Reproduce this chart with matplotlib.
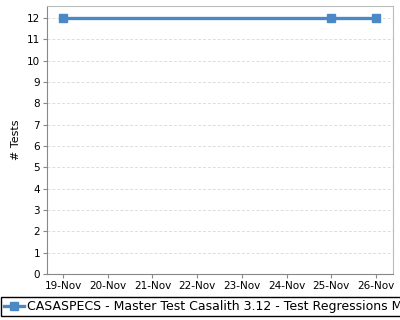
import datetime as dt
import matplotlib
matplotlib.use("Agg")
import matplotlib.pyplot as plt
import matplotlib.dates as mdates

# test run dates and number of tests
run_dates = [dt.date(2012, 11, 19), dt.date(2012, 11, 25), dt.date(2012, 11, 26)]
num_tests = [12, 12, 12]
series_name = "CASASPECS - Master Test Casalith 3.12 - Test Regressions Master"

fig = plt.figure(figsize=(4, 3.2), dpi=100)
ax = fig.add_axes([0.1175, 0.14375, 0.865, 0.8375])

ax.plot(run_dates, num_tests, color='#4A89C5', linewidth=2.4,
        marker='s', markersize=5.5, label=series_name)

ax.set_xlim(mdates.date2num(dt.date(2012, 11, 19)) - 0.36,
            mdates.date2num(dt.date(2012, 11, 26)) + 0.38)
ax.set_ylim(0, 12.56)
ax.set_yticks(range(0, 13))
ax.xaxis.set_major_locator(mdates.DayLocator())
ax.xaxis.set_major_formatter(mdates.DateFormatter('%d-%b'))

ax.grid(axis='y', color='#dddddd', linestyle=(0, (3, 2)), linewidth=0.7)
ax.set_axisbelow(True)
ax.tick_params(labelsize=7.5, length=3, color='#888888', pad=2)
for side in ('left', 'bottom'):
    ax.spines[side].set_color('#888888')
for side in ('top', 'right'):
    ax.spines[side].set_color('#bbbbbb')
ax.set_ylabel('# Tests', fontsize=8)

fig.legend(loc='upper left', bbox_to_anchor=(0.0025, 0.072), fontsize=9,
           fancybox=False, edgecolor='black', framealpha=1,
           handlelength=1.6, handletextpad=0.2, borderpad=0.25,
           borderaxespad=0)

fig.savefig('out.png', dpi=100)
